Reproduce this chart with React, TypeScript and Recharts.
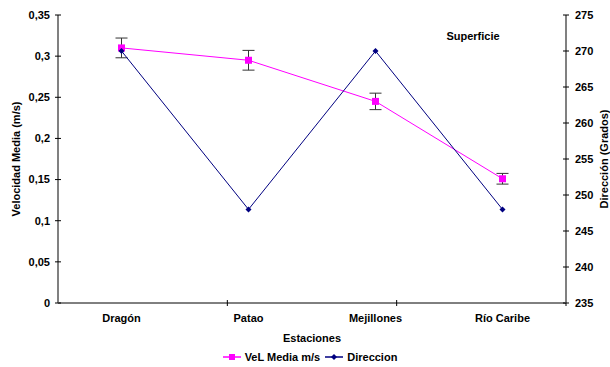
import React from "react";
import {
  ComposedChart,
  Line,
  XAxis,
  YAxis,
  ErrorBar,
  Legend,
} from "recharts";

const stations = ["Dragón", "Patao", "Mejillones", "Río Caribe"];
const velMedia = [0.31, 0.295, 0.245, 0.151];
const velError = [0.012, 0.012, 0.01, 0.0065];
const direccion = [270, 248, 270, 248];

const velTicks = [0, 0.05, 0.1, 0.15, 0.2, 0.25, 0.3, 0.35];
const dirTicks = [235, 240, 245, 250, 255, 260, 265, 270, 275];
const sepTicks = [1, 2, 3];

const PINK = "#FF00FF";
const NAVY = "#000080";
const FONT = "'Liberation Sans', Arial, sans-serif";

const data = stations.map((s, i) => ({
  station: s,
  vel: velMedia[i],
  velErr: velError[i],
  dir: direccion[i],
}));

const comma = (v: number) => String(v).replace(".", ",");

const tickStyle = { fontSize: 11, fontWeight: 700, fill: "#000", fontFamily: FONT };

// square marker for the velocity series
function SquareDot(props: any) {
  const { cx, cy, index } = props;
  if (cx == null || cy == null) return <g key={index} />;
  return <rect key={index} x={cx - 3.5} y={cy - 3.5} width={7} height={7} fill={PINK} />;
}

// small diamond for the direction series
function DiamondDot(props: any) {
  const { cx, cy, index } = props;
  if (cx == null || cy == null) return <g key={index} />;
  const r = 3;
  return (
    <polygon
      key={index}
      points={`${cx},${cy - r} ${cx + r},${cy} ${cx},${cy + r} ${cx - r},${cy}`}
      fill={NAVY}
    />
  );
}

function AxisTitle({ viewBox, value, side }: any) {
  const { x, y, width, height } = viewBox;
  const cx = side === "left" ? x + 16 : x + width - 6;
  const cy = y + height / 2;
  return (
    <text
      x={cx}
      y={cy}
      transform={`rotate(-90 ${cx} ${cy})`}
      textAnchor="middle"
      dominantBaseline="central"
      fontSize={11}
      fontWeight={700}
      fontFamily={FONT}
      fill="#000"
    >
      {value}
    </text>
  );
}

function LegendContent() {
  const item = (color: string, label: string, square: boolean) => (
    <span style={{ display: "inline-flex", alignItems: "center", marginRight: 5 }}>
      <svg width={18} height={8} style={{ marginRight: 4 }}>
        <line x1={0} y1={4} x2={18} y2={4} stroke={color} strokeWidth={1.5} />
        {square ? (
          <rect x={6} y={1} width={6} height={6} fill={color} />
        ) : (
          <polygon points="9,1 12,4 9,7 6,4" fill={color} />
        )}
      </svg>
      {label}
    </span>
  );
  return (
    <div
      style={{
        display: "flex",
        justifyContent: "center",
        alignItems: "center",
        height: 20,
        paddingLeft: 15,
        fontSize: 11,
        fontWeight: 700,
        fontFamily: FONT,
        color: "#000",
      }}
    >
      {item(PINK, "VeL Media m/s", true)}
      {item(NAVY, "Direccion", false)}
    </div>
  );
}

const EmptyTick = () => <g />;

export default function App() {
  return (
    <div style={{ position: "absolute", left: 0, top: 0, width: 610, height: 367, background: "#fff", fontFamily: FONT }}>
      <ComposedChart width={610} height={367} data={data} margin={{ top: 15, right: 0, bottom: 0, left: 0 }}>
        {/* thin numeric axis: baseline plus separator ticks between stations */}
        <XAxis
          xAxisId={0}
          type="number"
          domain={[0, 4]}
          ticks={sepTicks}
          height={1}
          axisLine={{ stroke: "#000" }}
          tick={EmptyTick}
          tickSize={6}
          tickLine={{ stroke: "#000", transform: "translate(0,-3)" }}
        />
        <XAxis
          xAxisId="cat"
          dataKey="station"
          scale="band"
          height={43}
          tickLine={false}
          tickSize={6}
          tickMargin={4}
          axisLine={false}
          tick={tickStyle}
          label={{ value: "Estaciones", position: "insideBottom", offset: 5, style: tickStyle }}
        />
        <YAxis
          yAxisId="vel"
          width={58}
          domain={[0, 0.35]}
          ticks={velTicks}
          tickFormatter={comma}
          tick={tickStyle}
          tickSize={6}
          tickMargin={2}
          axisLine={{ stroke: "#808080", strokeWidth: 2 }}
          tickLine={{ stroke: "#000", transform: "translate(3,0)" }}
          label={<AxisTitle value="Velocidad Media (m/s)" side="left" />}
        />
        <YAxis
          yAxisId="dir"
          orientation="right"
          width={44}
          domain={[235, 275]}
          ticks={dirTicks}
          tick={tickStyle}
          tickSize={6}
          tickMargin={3}
          axisLine={{ stroke: "#808080", strokeWidth: 2 }}
          tickLine={{ stroke: "#000", transform: "translate(-3,0)" }}
          label={<AxisTitle value="Dirección (Grados)" side="right" />}
        />
        <Legend verticalAlign="bottom" height={20} content={<LegendContent />} />
        <Line
          xAxisId="cat"
          yAxisId="vel"
          dataKey="vel"
          stroke={PINK}
          strokeWidth={1}
          dot={SquareDot}
          activeDot={false}
          isAnimationActive={false}
        >
          <ErrorBar dataKey="velErr" width={6} stroke="#333" strokeWidth={1} direction="y" isAnimationActive={false} />
        </Line>
        <Line
          xAxisId="cat"
          yAxisId="dir"
          dataKey="dir"
          stroke={NAVY}
          strokeWidth={1}
          dot={DiamondDot}
          activeDot={false}
          isAnimationActive={false}
        />
      </ComposedChart>
      <div
        style={{
          position: "absolute",
          left: 433,
          top: 30,
          width: 80,
          textAlign: "center",
          fontSize: 11,
          fontWeight: 700,
        }}
      >
        Superficie
      </div>
    </div>
  );
}
